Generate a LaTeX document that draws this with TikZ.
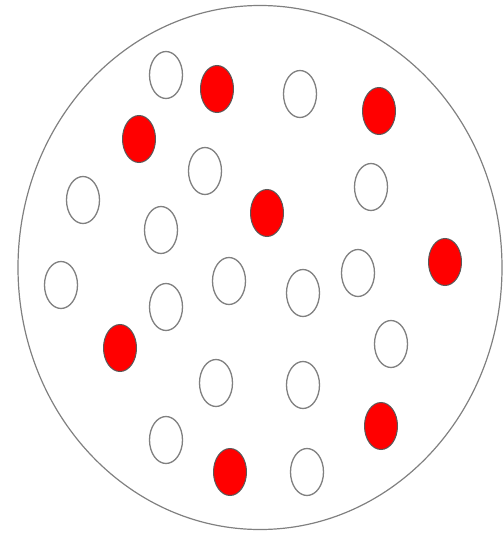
\documentclass[tikz,border=0pt]{standalone}
\usetikzlibrary{shapes.geometric}
\tikzset{
  bordo/.style = {draw=black!50, line width=1.2pt},
  vuoto/.style = {ellipse, draw=black!50, line width=1.3pt, fill=white, minimum width=33pt, minimum height=47pt, inner sep=0},
  pieno/.style = {ellipse, draw=black!65, line width=1pt, fill=red, minimum width=33pt, minimum height=47pt, inner sep=0}
}
\begin{document}
\begin{tikzpicture}[x=1pt, y=-1pt]
  \useasboundingbox (0,0) rectangle (503,535);
  \draw[bordo] (260,267.5) ellipse [x radius=242, y radius=262];
  \node[vuoto] (w1)  at (166, 75){};  \node[pieno] (r1) at (217, 89){};
  \node[vuoto] (w2)  at (300, 94){};  \node[pieno] (r2) at (379,111){};
  \node[vuoto] (w3)  at (205,171){};  \node[pieno] (r3) at (139,139){};
  \node[vuoto] (w4)  at ( 83,200){};  \node[pieno] (r4) at (267,213){};
  \node[vuoto] (w5)  at (371,187){};  \node[pieno] (r5) at (445,262){};
  \node[vuoto] (w6)  at (161,230){};  \node[pieno] (r6) at (120,348){};
  \node[vuoto] (w7)  at ( 61,285){};  \node[pieno] (r7) at (381,426){};
  \node[vuoto] (w8)  at (229,281){};  \node[pieno] (r8) at (230,472){};
  \node[vuoto] (w9)  at (303,293){};
  \node[vuoto] (w10) at (358,273){};
  \node[vuoto] (w11) at (166,307){};
  \node[vuoto] (w12) at (391,344){};
  \node[vuoto] (w13) at (216,383){};
  \node[vuoto] (w14) at (303,385){};
  \node[vuoto] (w15) at (166,440){};
  \node[vuoto] (w16) at (307,472){};
\end{tikzpicture}
\end{document}
